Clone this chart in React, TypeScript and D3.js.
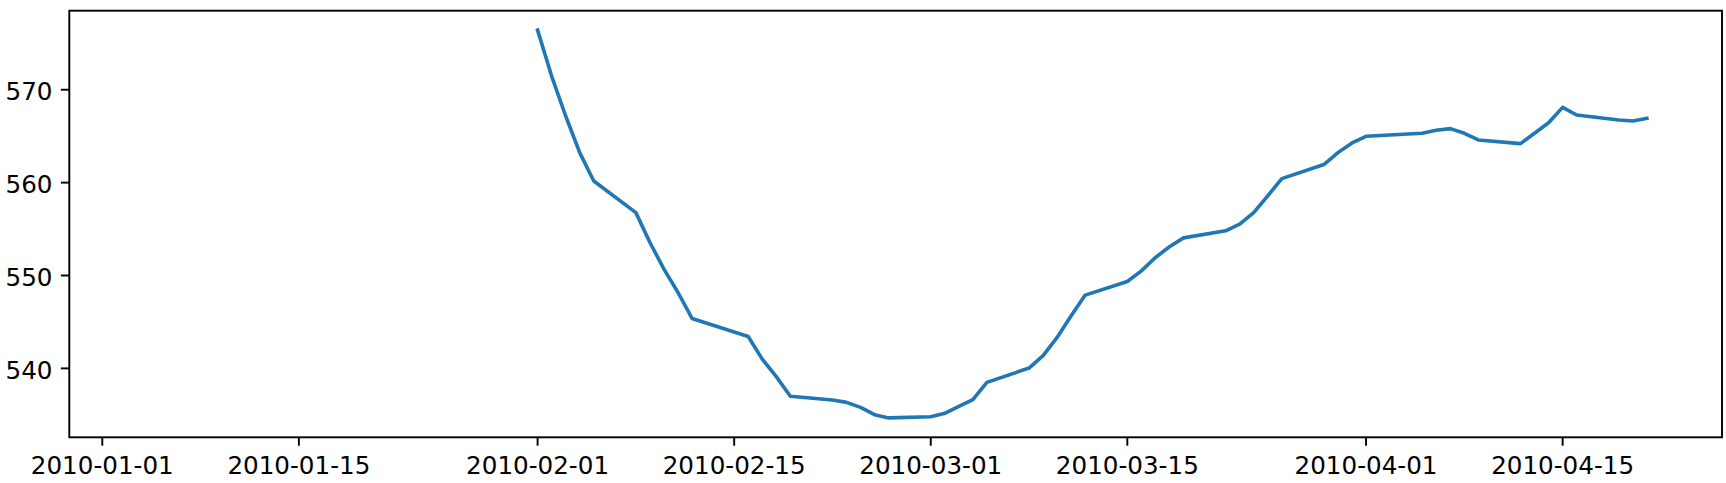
import React from "react";
import * as d3 from "d3";

// Trading days Jan 4 – Apr 21, 2010 (20-day rolling mean: first 19 values undefined)
const dates: string[] = [
  "2010-01-04", "2010-01-05", "2010-01-06", "2010-01-07", "2010-01-08",
  "2010-01-11", "2010-01-12", "2010-01-13", "2010-01-14", "2010-01-15",
  "2010-01-19", "2010-01-20", "2010-01-21", "2010-01-22",
  "2010-01-25", "2010-01-26", "2010-01-27", "2010-01-28", "2010-01-29",
  "2010-02-01", "2010-02-02", "2010-02-03", "2010-02-04", "2010-02-05",
  "2010-02-08", "2010-02-09", "2010-02-10", "2010-02-11", "2010-02-12",
  "2010-02-16", "2010-02-17", "2010-02-18", "2010-02-19",
  "2010-02-22", "2010-02-23", "2010-02-24", "2010-02-25", "2010-02-26",
  "2010-03-01", "2010-03-02", "2010-03-03", "2010-03-04", "2010-03-05",
  "2010-03-08", "2010-03-09", "2010-03-10", "2010-03-11", "2010-03-12",
  "2010-03-15", "2010-03-16", "2010-03-17", "2010-03-18", "2010-03-19",
  "2010-03-22", "2010-03-23", "2010-03-24", "2010-03-25", "2010-03-26",
  "2010-03-29", "2010-03-30", "2010-03-31", "2010-04-01",
  "2010-04-05", "2010-04-06", "2010-04-07", "2010-04-08", "2010-04-09",
  "2010-04-12", "2010-04-13", "2010-04-14", "2010-04-15", "2010-04-16",
  "2010-04-19", "2010-04-20", "2010-04-21",
];

const values: (number | null)[] = [
  null, null, null, null, null,
  null, null, null, null, null,
  null, null, null, null,
  null, null, null, null, null,
  576.42, 571.47, 567.17, 563.23, 560.18,
  556.77, 553.55, 550.69, 548.17, 545.38,
  543.44, 541.0, 539.11, 537.0,
  536.6, 536.34, 535.8, 535.02, 534.67,
  534.8, 535.16, 535.9, 536.63, 538.5,
  540.04, 541.37, 543.33, 545.67, 547.89,
  549.36, 550.5, 551.94, 553.09, 554.05,
  554.81, 555.53, 556.77, 558.57, 560.43,
  561.95, 563.23, 564.27, 564.99,
  565.31, 565.63, 565.81, 565.31, 564.59,
  564.2, 565.31, 566.45, 568.1, 567.28,
  566.74, 566.63, 566.92,
];

const xTickLabels: string[] = [
  "2010-01-01", "2010-01-15", "2010-02-01", "2010-02-15",
  "2010-03-01", "2010-03-15", "2010-04-01", "2010-04-15",
];
const yTickValues: number[] = [540, 550, 560, 570];

const W = 1726;
const H = 483;
const M = { left: 69.3, top: 10.7, right: 1722, bottom: 437.3 };
const DPI = 2.4; // px per pt

export default function App() {
  const parse = d3.utcParse("%Y-%m-%d");
  const xs = dates.map((d) => parse(d) as Date);
  const [x0, x1] = d3.extent(xs) as [Date, Date];
  const xpad = (x1.getTime() - x0.getTime()) * 0.05;
  const x = d3
    .scaleUtc()
    .domain([new Date(x0.getTime() - xpad), new Date(x1.getTime() + xpad)])
    .range([M.left, M.right]);

  const valid = values.filter((v) => v !== null) as number[];
  const [y0, y1] = d3.extent(valid) as [number, number];
  const ypad = (y1 - y0) * 0.05;
  const y = d3.scaleLinear().domain([y0 - ypad, y1 + ypad]).range([M.bottom, M.top]);

  const pts = xs.map((d, i) => ({ d, v: values[i] }));
  const line = d3
    .line<{ d: Date; v: number | null }>()
    .defined((p) => p.v !== null)
    .x((p) => x(p.d))
    .y((p) => y(p.v as number));

  const tickLen = 3.5 * DPI;
  const pad = 3.5 * DPI;
  const axW = 0.8 * DPI;
  const font = "'DejaVu Sans', sans-serif";
  const fs = 24.6;

  return (
    <svg
      width={W}
      height={H}
      style={{ position: "absolute", left: 0, top: 0, background: "#fff" }}
      xmlns="http://www.w3.org/2000/svg"
    >
      <rect x={0} y={0} width={W} height={H} fill="#fff" />
      <path
        d={line(pts) || ""}
        fill="none"
        stroke="#1f77b4"
        strokeWidth={1.5 * DPI}
        strokeLinejoin="round"
        strokeLinecap="square"
      />
      <rect
        x={M.left}
        y={M.top}
        width={M.right - M.left}
        height={M.bottom - M.top}
        fill="none"
        stroke="#000"
        strokeWidth={axW}
      />
      {xTickLabels.map((t) => {
        const px = x(parse(t) as Date);
        return (
          <g key={t}>
            <line x1={px} x2={px} y1={M.bottom} y2={M.bottom + tickLen} stroke="#000" strokeWidth={axW} />
            <text
              x={px}
              y={M.bottom + 36.4}
              textAnchor="middle"
              fontFamily={font}
              fontSize={fs}
              fill="#000"
            >
              {t}
            </text>
          </g>
        );
      })}
      {yTickValues.map((v) => {
        const py = y(v);
        return (
          <g key={v}>
            <line x1={M.left - tickLen} x2={M.left} y1={py} y2={py} stroke="#000" strokeWidth={axW} />
            <text
              x={M.left - tickLen - pad}
              y={py + 10.5}
              textAnchor="end"
              fontFamily={font}
              fontSize={fs}
              fill="#000"
            >
              {v}
            </text>
          </g>
        );
      })}
    </svg>
  );
}
